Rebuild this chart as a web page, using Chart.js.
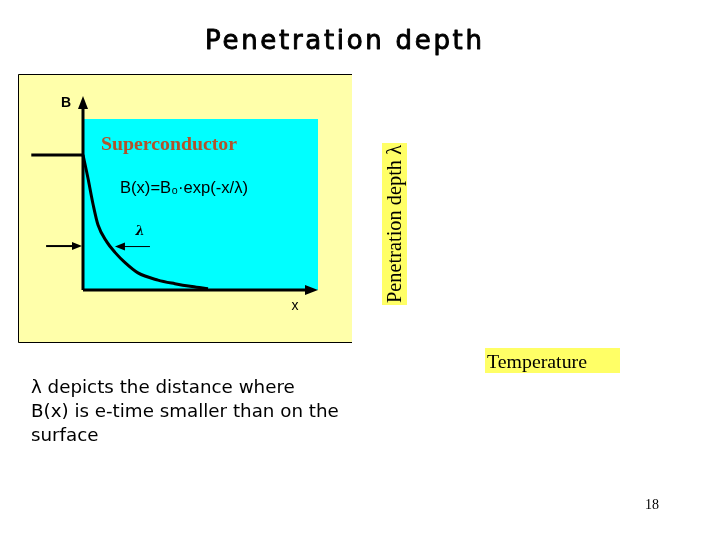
<!DOCTYPE html>
<html>
<head>
<meta charset="utf-8">
<script src="https://cdn.jsdelivr.net/npm/chart.js@4/dist/chart.umd.min.js"></script>
<style>
html,body{margin:0;padding:0;background:#fff;}
#wrap{position:relative;width:720px;height:540px;}
</style>
</head>
<body>
<div id="wrap"><canvas id="c" width="720" height="540"></canvas></div>
<script>
// ---- data ----
const titleText = "Penetration depth";
const xValues = [0, 0.21, 0.43, 0.64, 1.02, 1.36, 1.79, 2.34, 3.19, 3.91, 4.64, 5.32];
const bValues = [0.79, 0.655, 0.50, 0.38, 0.28, 0.22, 0.16, 0.10, 0.058, 0.037, 0.02, 0.007];
const outsideX = [-2.2, 0];
const outsideB = [0.79, 0.79];
const lambdaLevel = 0.257;
const lambdaArrowLeft = [-1.57, 0];
const lambdaArrowRight = [2.85, 1.36];
const bodyLines = ["\u03bb depicts the distance where", "B(x) is e-time smaller than on the", "surface"];
const formulaText = "B(x)=B\u2080\u00b7exp(-x/\u03bb)";
const materialLabel = "Superconductor";
const yAxisLabel = "Penetration depth \u03bb";
const xAxisLabel = "Temperature";
const pageNumber = "18";

const curve = xValues.map((x, i) => ({x, y: bValues[i]}));
const outside = outsideX.map((x, i) => ({x, y: outsideB[i]}));

function arrowHead(ctx, x, y, dir, len, half) {
  ctx.beginPath();
  if (dir === 'up') { ctx.moveTo(x, y); ctx.lineTo(x - half, y + len); ctx.lineTo(x + half, y + len); }
  if (dir === 'right') { ctx.moveTo(x, y); ctx.lineTo(x - len, y - half); ctx.lineTo(x - len, y + half); }
  if (dir === 'left') { ctx.moveTo(x, y); ctx.lineTo(x + len, y - half); ctx.lineTo(x + len, y + half); }
  ctx.closePath();
  ctx.fill();
}
function fitFont(ctx, text, family, weight, target) {
  let size = 20;
  ctx.font = weight + " " + size + "px " + family;
  const w = ctx.measureText(text).width;
  size = size * target / w;
  return weight + " " + size.toFixed(2) + "px " + family;
}

const deco = {
  id: 'deco',
  beforeDraw(chart) {
    const ctx = chart.ctx, a = chart.chartArea;
    ctx.save();
    // yellow panel
    ctx.fillStyle = '#FFFFAA';
    ctx.fillRect(18, 74, 334, 269);
    ctx.strokeStyle = '#000'; ctx.lineWidth = 1;
    ctx.beginPath();
    ctx.moveTo(352, 74.5); ctx.lineTo(18.5, 74.5); ctx.lineTo(18.5, 342.5); ctx.lineTo(352, 342.5);
    ctx.stroke();
    // cyan superconductor
    ctx.fillStyle = '#00FFFF';
    ctx.fillRect(a.left, a.top, a.right - a.left, a.bottom - a.top);
    // axes
    ctx.strokeStyle = '#000'; ctx.fillStyle = '#000'; ctx.lineWidth = 3;
    ctx.beginPath();
    ctx.moveTo(a.left, a.bottom); ctx.lineTo(a.left, 106);
    ctx.moveTo(a.left, a.bottom); ctx.lineTo(a.right - 10, a.bottom);
    ctx.stroke();
    arrowHead(ctx, a.left, 96, 'up', 13, 5);
    arrowHead(ctx, a.right, a.bottom, 'right', 13, 5);
    ctx.restore();
  },
  afterDraw(chart) {
    const ctx = chart.ctx, a = chart.chartArea;
    const xs = chart.scales.x, ys = chart.scales.y;
    ctx.save();
    // lambda arrows
    const ly = ys.getPixelForValue(lambdaLevel);
    ctx.strokeStyle = '#000'; ctx.fillStyle = '#000';
    ctx.lineWidth = 2;
    let x0 = xs.getPixelForValue(lambdaArrowLeft[0]), x1 = xs.getPixelForValue(lambdaArrowLeft[1]);
    ctx.beginPath(); ctx.moveTo(x0, ly); ctx.lineTo(x1 - 8, ly); ctx.stroke();
    arrowHead(ctx, x1 - 1, ly, 'right', 10, 4);
    ctx.lineWidth = 1;
    x0 = xs.getPixelForValue(lambdaArrowRight[0]); x1 = xs.getPixelForValue(lambdaArrowRight[1]);
    ctx.beginPath(); ctx.moveTo(x0, ly + 0.5); ctx.lineTo(x1 + 8, ly + 0.5); ctx.stroke();
    arrowHead(ctx, x1, ly + 0.5, 'left', 10, 4);
    // lambda label
    ctx.textAlign = 'center'; ctx.textBaseline = 'middle';
    ctx.font = 'bold italic 13px "DejaVu Serif"';
    ctx.fillText('\u03bb', 140, 232);
    // axis letters
    ctx.font = 'bold 14px "Liberation Sans"';
    ctx.fillText('B', 66, 103);
    ctx.font = '14px "Liberation Sans"';
    ctx.fillText('x', 295, 306);
    // material label
    ctx.textAlign = 'left'; ctx.textBaseline = 'alphabetic';
    ctx.fillStyle = '#B0532C';
    ctx.font = fitFont(ctx, materialLabel, '"Liberation Serif"', 'bold', 136);
    ctx.fillText(materialLabel, 101, 150);
    // formula
    ctx.fillStyle = '#000';
    ctx.font = fitFont(ctx, formulaText, '"Liberation Sans"', 'normal', 128);
    ctx.fillText(formulaText, 120, 193);
    // title
    ctx.textAlign = 'left';
    ctx.font = '26px "DejaVu Sans"';
    ctx.letterSpacing = '0px';
    const tw = ctx.measureText(titleText).width;
    const sp = (277 - tw) / (titleText.length - 1);
    ctx.letterSpacing = sp.toFixed(2) + 'px';
    ctx.strokeStyle = '#000'; ctx.lineWidth = 0.9; ctx.lineJoin = 'round';
    ctx.fillText(titleText, 205, 49);
    ctx.strokeText(titleText, 205, 49);
    ctx.letterSpacing = '0px';
    // body text
    const bf = fitFont(ctx, bodyLines[1], '"DejaVu Sans"', 'normal', 308);
    ctx.font = bf;
    bodyLines.forEach((t, i) => ctx.fillText(t, 31, 393 + i * 24));
    // rotated y label
    ctx.fillStyle = '#FFFF66';
    ctx.fillRect(382, 143, 25, 162);
    ctx.save();
    ctx.translate(401, 224);
    ctx.rotate(-Math.PI / 2);
    ctx.fillStyle = '#000';
    ctx.textAlign = 'center'; ctx.textBaseline = 'alphabetic';
    ctx.font = fitFont(ctx, yAxisLabel, '"Liberation Serif"', 'normal', 158);
    ctx.fillText(yAxisLabel, 0, 0);
    ctx.restore();
    // x label
    ctx.fillStyle = '#FFFF66';
    ctx.fillRect(485, 348, 135, 25);
    ctx.fillStyle = '#000';
    ctx.textAlign = 'left';
    ctx.font = fitFont(ctx, xAxisLabel, '"Liberation Serif"', 'normal', 100);
    ctx.fillText(xAxisLabel, 487, 368);
    // page number
    ctx.textAlign = 'center';
    ctx.font = '14px "Liberation Serif"';
    ctx.fillText(pageNumber, 652, 509);
    ctx.restore();
  }
};

new Chart(document.getElementById('c'), {
  type: 'line',
  data: {
    datasets: [
      {data: curve, borderColor: '#000', borderWidth: 3, pointRadius: 0, cubicInterpolationMode: 'monotone', fill: false, clip: false},
      {data: outside, borderColor: '#000', borderWidth: 3, pointRadius: 0, tension: 0, fill: false, clip: false}
    ]
  },
  options: {
    responsive: false,
    animation: false,
    devicePixelRatio: 1,
    layout: {padding: {left: 83, top: 119, right: 402, bottom: 250}},
    plugins: {legend: {display: false}, tooltip: {enabled: false}, title: {display: false}},
    scales: {
      x: {type: 'linear', min: 0, max: 10, display: false},
      y: {type: 'linear', min: 0, max: 1, display: false}
    }
  },
  plugins: [deco]
});
</script>
</body>
</html>
